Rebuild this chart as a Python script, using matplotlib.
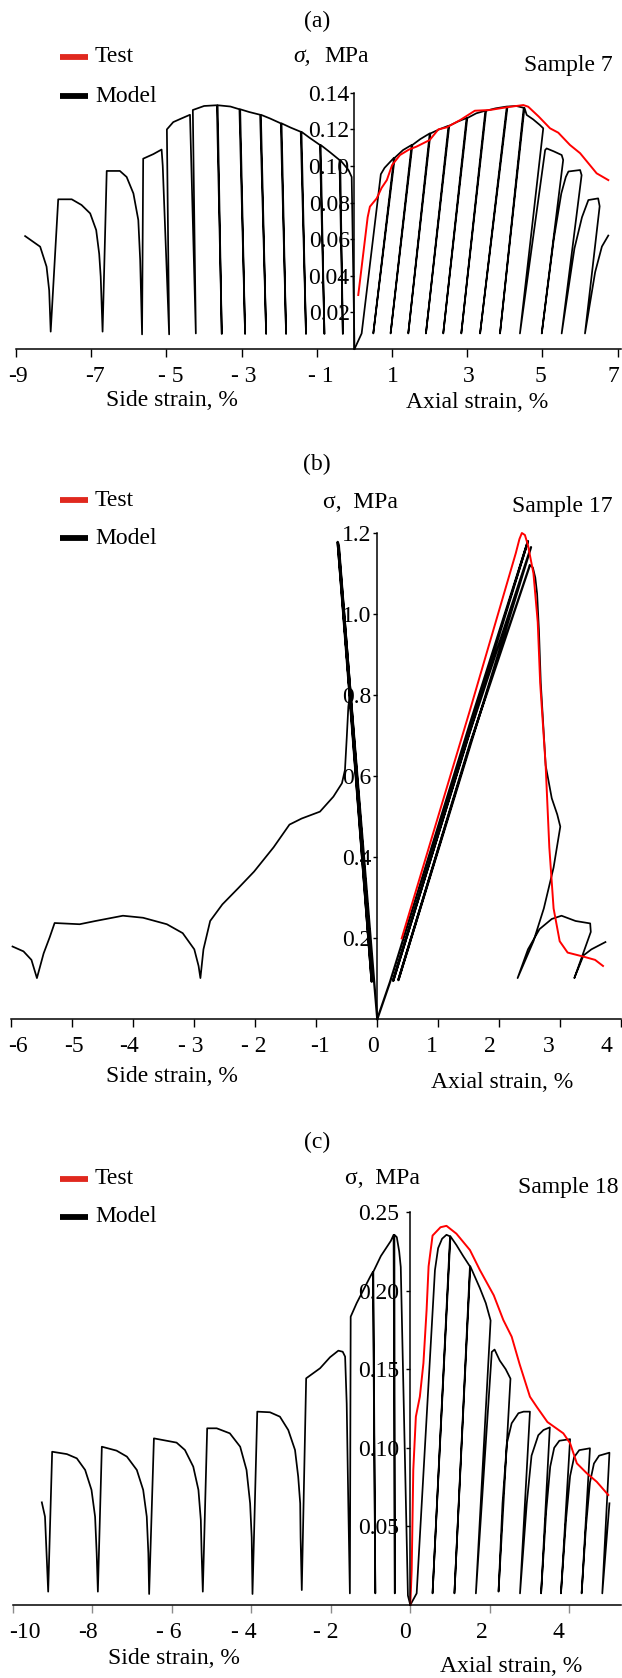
import numpy as np
import matplotlib.pyplot as plt
from matplotlib.lines import Line2D

plt.rcParams['font.family'] = ['Liberation Serif', 'DejaVu Serif']
FS = 17

# ---------------- panel (a), sample 7 ----------------
a_side = [(-8.76, 0.0617), (-8.36, 0.0559), (-8.19, 0.045), (-8.12, 0.032), (-8.08, 0.0095),
          (-7.88, 0.0818), (-7.52, 0.0818), (-7.26, 0.0787), (-7.03, 0.0741), (-6.87, 0.065),
          (-6.79, 0.052), (-6.75, 0.0395), (-6.70, 0.0095),
          (-6.59, 0.0973), (-6.24, 0.0973), (-6.06, 0.094), (-5.88, 0.085), (-5.75, 0.0705),
          (-5.70, 0.0486), (-5.65, 0.008),
          (-5.62, 0.104), (-5.35, 0.1065), (-5.13, 0.109), (-5.10, 0.100), (-4.93, 0.008),
          (-4.99, 0.120), (-4.82, 0.124), (-4.60, 0.126), (-4.375, 0.128), (-4.22, 0.0085),
          (-4.30, 0.1306), (-4.0, 0.1328), (-3.66, 0.1332), (-3.53, 0.0082), (-3.64, 0.1332),
          (-3.3, 0.1325), (-3.06, 0.131), (-2.91, 0.0082), (-3.04, 0.131),
          (-2.8, 0.1295), (-2.51, 0.128), (-2.35, 0.0082), (-2.49, 0.128),
          (-2.25, 0.126), (-1.96, 0.1233), (-1.82, 0.0082), (-1.94, 0.1233),
          (-1.7, 0.121), (-1.43, 0.1187), (-1.29, 0.0082), (-1.41, 0.1187),
          (-1.2, 0.1155), (-0.92, 0.1115), (-0.80, 0.0082), (-0.90, 0.1115),
          (-0.65, 0.1075), (-0.40, 0.1033), (-0.31, 0.0082), (-0.38, 0.1033),
          (-0.16, 0.0978), (-0.075, 0.094), (-0.04, 0.05), (0.0, 0.0)]

a_axial = [(0.0, 0.0), (0.19, 0.0085), (0.70, 0.0955), (0.80, 0.0990), (1.05, 0.1045),
           (0.50, 0.0085), (1.07, 0.1045),
           (1.29, 0.1087), (1.52, 0.1115), (0.96, 0.0085), (1.54, 0.1115),
           (1.75, 0.1147), (2.00, 0.1178), (1.43, 0.0085), (2.02, 0.1178),
           (2.25, 0.1200), (2.50, 0.1220), (1.90, 0.0085), (2.52, 0.1220),
           (2.75, 0.1243), (2.98, 0.1262), (2.36, 0.0085), (3.00, 0.1262),
           (3.24, 0.1288), (3.48, 0.1302), (2.84, 0.0085), (3.50, 0.1302),
           (3.75, 0.1315), (4.05, 0.1325), (3.34, 0.0085), (4.07, 0.1325),
           (4.30, 0.1328), (4.50, 0.1318), (3.87, 0.0085), (4.52, 0.1318),
           (4.58, 0.1279), (4.75, 0.1255), (4.93, 0.1224), (5.02, 0.1206), (4.40, 0.0085),
           (5.07, 0.1087), (5.11, 0.1096), (5.30, 0.1080), (5.51, 0.1060), (5.55, 0.1033),
           (4.98, 0.0085),
           (5.30, 0.0600), (5.50, 0.0850), (5.62, 0.0940), (5.69, 0.0970), (6.00, 0.0978),
           (6.04, 0.0950), (5.51, 0.0085),
           (5.85, 0.0550), (6.05, 0.0720), (6.22, 0.0814), (6.48, 0.0823), (6.52, 0.0780),
           (6.13, 0.0085),
           (6.40, 0.0420), (6.58, 0.0560), (6.75, 0.0620)]

a_test = [(0.10, 0.0295), (0.25, 0.055), (0.35, 0.072), (0.41, 0.0778), (0.59, 0.0823),
          (0.72, 0.0880), (0.86, 0.0923), (1.0, 0.1005), (1.21, 0.106), (1.45, 0.1090),
          (1.65, 0.1106), (2.0, 0.1142), (2.23, 0.1200), (2.45, 0.1211), (2.81, 0.1251),
          (3.2, 0.1302), (3.60, 0.1306), (4.05, 0.1321), (4.49, 0.1333), (4.62, 0.1324),
          (4.90, 0.1270), (5.2, 0.1206), (5.42, 0.1182), (5.73, 0.1115), (6.0, 0.1070),
          (6.44, 0.0960), (6.75, 0.0923)]

# ---------------- panel (b), sample 17 ----------------
b_side = [(-5.98, 0.179), (-5.80, 0.167), (-5.67, 0.146), (-5.58, 0.101), (-5.47, 0.162),
          (-5.37, 0.202), (-5.29, 0.237), (-4.88, 0.234), (-4.62, 0.242), (-4.17, 0.255),
          (-3.84, 0.250), (-3.45, 0.234), (-3.19, 0.212), (-3.00, 0.172), (-2.93, 0.131),
          (-2.90, 0.101), (-2.85, 0.172), (-2.74, 0.242), (-2.54, 0.283), (-2.28, 0.323),
          (-2.02, 0.364), (-1.70, 0.424), (-1.44, 0.480), (-1.24, 0.495), (-0.94, 0.512),
          (-0.72, 0.549), (-0.58, 0.582), (-0.53, 0.615), (-0.50, 0.697), (-0.475, 0.771),
          (-0.45, 0.800)]

b_side_cycles = [(0.0, 0.0), (-0.054, 0.096), (-0.64, 1.175), (-0.092, 0.092),
                 (-0.65, 1.178), (-0.07, 0.094), (-0.63, 1.168)]

b_axial_cycles = [(0.0, 0.0), (0.21, 0.092), (1.52, 0.73), (2.47, 1.18), (0.26, 0.094),
                  (1.52, 0.71), (2.52, 1.165), (0.345, 0.096), (1.52, 0.68), (2.50, 1.12)]

b_axial_post = [(2.50, 1.12), (2.55, 1.115), (2.59, 1.09), (2.62, 1.05), (2.65, 0.96),
                (2.68, 0.83), (2.76, 0.626), (2.86, 0.545), (2.95, 0.505), (3.00, 0.475),
                (2.89, 0.374), (2.73, 0.273), (2.56, 0.192), (2.30, 0.101), (2.47, 0.172),
                (2.66, 0.222), (2.86, 0.247), (3.02, 0.255), (3.25, 0.242), (3.49, 0.236),
                (3.50, 0.215), (3.23, 0.101), (3.38, 0.157), (3.51, 0.172), (3.74, 0.190)]

b_test = [(0.40, 0.199), (1.52, 0.763), (2.27, 1.150), (2.33, 1.185), (2.37, 1.200),
          (2.42, 1.195), (2.47, 1.170), (2.56, 1.100), (2.63, 0.980), (2.67, 0.830),
          (2.76, 0.626), (2.82, 0.424), (2.89, 0.273), (2.99, 0.192), (3.12, 0.164),
          (3.38, 0.154), (3.57, 0.146), (3.70, 0.131)]

# ---------------- panel (c), sample 18 ----------------
c_side = [(-9.27, 0.0653), (-9.19, 0.0562), (-9.11, 0.0085), (-9.01, 0.0975), (-8.64, 0.096),
          (-8.39, 0.0933), (-8.18, 0.0859), (-8.02, 0.0732), (-7.93, 0.0562), (-7.89, 0.0329),
          (-7.86, 0.0085), (-7.76, 0.1007), (-7.39, 0.0982), (-7.13, 0.0944), (-6.88, 0.0859),
          (-6.72, 0.0732), (-6.63, 0.0562), (-6.59, 0.0329), (-6.57, 0.007), (-6.45, 0.106),
          (-5.88, 0.1033), (-5.67, 0.0986), (-5.46, 0.088), (-5.33, 0.0732), (-5.27, 0.0541),
          (-5.25, 0.033), (-5.22, 0.0085), (-5.11, 0.1124), (-4.87, 0.1124), (-4.54, 0.1092),
          (-4.28, 0.1007), (-4.12, 0.0859), (-4.03, 0.0647), (-3.99, 0.043), (-3.97, 0.007),
          (-3.85, 0.123), (-3.53, 0.1226), (-3.28, 0.1198), (-3.07, 0.1113), (-2.90, 0.0986),
          (-2.82, 0.0816), (-2.77, 0.0647), (-2.76, 0.043), (-2.73, 0.0095), (-2.62, 0.1442),
          (-2.27, 0.1506), (-2.02, 0.1576), (-1.81, 0.1618), (-1.70, 0.1611), (-1.64, 0.158),
          (-1.60, 0.128), (-1.56, 0.0647), (-1.52, 0.0074), (-1.50, 0.1834), (-1.35, 0.192),
          (-1.18, 0.2004), (-1.01, 0.2088), (-0.94, 0.212), (-0.88, 0.0074), (-0.93, 0.212),
          (-0.74, 0.222), (-0.49, 0.2316), (-0.42, 0.2355), (-0.39, 0.0074), (-0.40, 0.2355),
          (-0.34, 0.234), (-0.28, 0.225), (-0.24, 0.215), (-0.06, 0.006), (0.0, 0.0)]

c_axial = [(0.0, 0.0), (0.16, 0.0074), (0.62, 0.213), (0.70, 0.227), (0.80, 0.233),
           (0.91, 0.2355), (1.0, 0.2345), (0.56, 0.0074), (1.01, 0.2345),
           (1.16, 0.229), (1.33, 0.222), (1.5, 0.2154), (1.11, 0.0074), (1.51, 0.2154),
           (1.75, 0.2016), (1.9, 0.192), (2.02, 0.181), (1.65, 0.0074),
           (2.05, 0.161), (2.12, 0.1625), (2.25, 0.1555), (2.40, 0.150), (2.52, 0.144),
           (2.22, 0.0085), (2.32, 0.0647), (2.43, 0.1029), (2.55, 0.1156), (2.72, 0.122),
           (2.85, 0.123), (3.01, 0.123), (2.76, 0.0074), (2.93, 0.0647), (3.05, 0.095),
           (3.22, 0.108), (3.35, 0.1113), (3.51, 0.113), (3.29, 0.0074), (3.42, 0.06),
           (3.52, 0.088), (3.62, 0.100), (3.75, 0.1045), (4.02, 0.1055), (3.79, 0.0074),
           (3.92, 0.055), (4.02, 0.082), (4.12, 0.094), (4.25, 0.0985), (4.52, 0.0997),
           (4.31, 0.0074), (4.42, 0.05), (4.52, 0.078), (4.62, 0.090), (4.75, 0.095),
           (5.01, 0.0969), (4.83, 0.0074), (5.01, 0.0647)]

c_test = [(0.0, 0.0), (0.035, 0.0223), (0.075, 0.0859), (0.14, 0.1198), (0.24, 0.1325),
          (0.33, 0.1538), (0.41, 0.1877), (0.46, 0.2154), (0.56, 0.235), (0.76, 0.2403),
          (0.91, 0.2412), (1.16, 0.2362), (1.50, 0.2258), (1.75, 0.2131), (2.10, 0.197),
          (2.34, 0.1813), (2.55, 0.1707), (2.75, 0.1532), (3.01, 0.1325), (3.18, 0.1261),
          (3.45, 0.1164), (3.85, 0.1092), (4.02, 0.1029), (4.19, 0.0901), (4.44, 0.0838),
          (4.69, 0.0784), (4.98, 0.0700)]

a_xticks = [-9, -7, -5, -3, -1, 1, 3, 5, 7]
a_xlabels = ['-9', '-7', '- 5', '- 3', '- 1', '1', '3', '5', '7']
a_yticks = [0.02, 0.04, 0.06, 0.08, 0.10, 0.12, 0.14]
b_xticks = [-6, -5, -4, -3, -2, -1, 0, 1, 2, 3, 4]
b_xlabels = ['-6', '-5', '-4', '- 3', '- 2', '-1', '0', '1', '2', '3', '4']
b_yticks = [0.2, 0.4, 0.6, 0.8, 1.0, 1.2]
c_xticks = [-10, -8, -6, -4, -2, 0, 2, 4]
c_xlabels = ['-10', '-8', '- 6', '- 4', '- 2', '0', '2', '4']
c_yticks = [0.05, 0.10, 0.15, 0.20, 0.25]

# horizontal nudges (pixels) of the x tick labels, as placed in the original
a_xoff = [2, 4, 4, 2, 4, 1, 1, -2, -4]
b_xoff = [7, 2, -4, -4, -2, 4, -4, -6, -9, -12, -15]
c_xoff = [12, -4, -3, -7, -5, -5, -8, -11]

W, H = 622, 1678
fig = plt.figure(figsize=(W / 100, H / 100), dpi=100)


def fx(px):
    return px / W


def fy(py):
    return 1 - py / H


def make_axes(x0, xs, y0, ys, ytop, xmin, xmax, xticks, xlabels, xoff, yticks, yfmt, ypad,
              tickcol):
    left, right = 8, 622
    ax = fig.add_axes([fx(left), fy(y0), (right - left) / W, ytop * ys / H])
    ax.set_xlim((left - x0) / xs, (right - x0) / xs)
    ax.set_ylim(0, ytop)
    ax.patch.set_alpha(0)
    for s in ['top', 'right']:
        ax.spines[s].set_visible(False)
    ax.spines['left'].set_position(('data', 0))
    ax.spines['left'].set_bounds(0, ytop)
    ax.spines['bottom'].set_bounds(xmin, xmax)
    for s in ['left', 'bottom']:
        ax.spines[s].set_linewidth(1.1)
    ax.set_xticks(xticks)
    ax.set_xticklabels([])
    for t, lab, dx in zip(xticks, xlabels, xoff):
        ax.annotate(lab, xy=(t, 0), xycoords=ax.get_xaxis_transform(), xytext=(dx, -27),
                    textcoords='offset pixels', ha='center', va='center', fontsize=FS,
                    annotation_clip=False)
    ax.set_yticks(yticks)
    ax.set_yticklabels([yfmt % v for v in yticks])
    ax.tick_params(axis='x', direction='out', length=6, width=1, color=tickcol)
    ax.tick_params(axis='y', direction='out', length=3, width=1, pad=ypad, labelsize=FS)
    return ax


def draw(ax, pts, **kw):
    p = np.array(pts)
    ax.plot(p[:, 0], p[:, 1], solid_joinstyle='round', clip_on=False, **kw)


def labels(title, title_y, leg_y1, leg_y2, sig, sample, side_pos, axial_pos,
           italic_sigma=False):
    fig.text(fx(317), fy(title_y), title, ha='center', va='center', fontsize=FS)
    for yy, col, txt in [(leg_y1, '#e0281e', 'Test'), (leg_y2, 'black', 'Model')]:
        fig.add_artist(Line2D([fx(59.5), fx(87.5)], [fy(yy), fy(yy)], color=col, lw=4.2,
                              solid_capstyle='butt', transform=fig.transFigure))
        fig.text(fx(95), fy(yy), txt, ha='left', va='center', fontsize=FS)
    sx, sy = sig
    if italic_sigma:
        fig.text(fx(sx), fy(sy), 'σ,', ha='left', va='center', fontsize=FS, style='italic')
        fig.text(fx(sx + 31), fy(sy), 'MPa', ha='left', va='center', fontsize=FS)
    else:
        fig.text(fx(sx), fy(sy), 'σ,  MPa', ha='left', va='center', fontsize=FS)
    fig.text(fx(sample[0]), fy(sample[1]), sample[2], ha='right', va='center', fontsize=FS)
    fig.text(fx(side_pos[0]), fy(side_pos[1]), 'Side strain, %', ha='center', va='center',
             fontsize=FS)
    fig.text(fx(axial_pos[0]), fy(axial_pos[1]), 'Axial strain, %', ha='center', va='center',
             fontsize=FS)


MLW = 1.25
TLW = 1.4

# panel (a)
ax = make_axes(354.5, 37.6, 349, 1830, 0.14, -9, 7.1, a_xticks, a_xlabels, a_xoff,
               a_yticks, '%.2f', 0.5, 'black')
draw(ax, a_side, color='black', lw=MLW)
draw(ax, a_axial, color='black', lw=MLW)
draw(ax, a_test, color='red', lw=TLW)
labels('(a)', 21.7, 57, 96, (293.5, 57), (613, 65, 'Sample 7'), (172, 401), (477, 403),
       italic_sigma=True)

# panel (b)
ax = make_axes(377.3, 61, 1019, 405, 1.2, -6, 4.0, b_xticks, b_xlabels, b_xoff,
               b_yticks, '%.1f', 1, 'black')
draw(ax, b_side, color='black', lw=MLW)
draw(ax, b_side_cycles, color='black', lw=MLW + 0.4)
draw(ax, b_axial_cycles, color='black', lw=MLW + 0.4)
draw(ax, b_axial_post, color='black', lw=MLW)
draw(ax, b_test, color='red', lw=TLW)
labels('(b)', 464.5, 500.4, 538, (323, 503), (613, 507, 'Sample 17'), (172, 1077),
       (502, 1083))

# panel (c)
ax = make_axes(410.3, 39.75, 1605, 1572, 0.25, -10, 5.3, c_xticks, c_xlabels, c_xoff,
               c_yticks, '%.2f', 5, '0.55')
draw(ax, c_side, color='black', lw=MLW)
draw(ax, c_axial, color='black', lw=MLW)
draw(ax, c_test, color='red', lw=TLW)
labels('(c)', 1142.6, 1178.8, 1217, (345, 1178.8), (619, 1188, 'Sample 18'), (174, 1659),
       (511, 1666))

fig.savefig('out.png', dpi=100)
